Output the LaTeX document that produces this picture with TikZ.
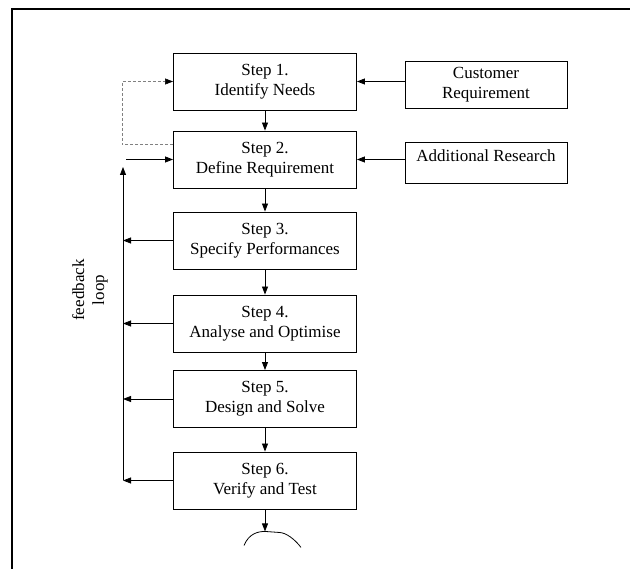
\documentclass[tikz,border=0pt]{standalone}
\usepackage{fontspec}
\setmainfont{Liberation Serif}
\usetikzlibrary{arrows.meta, positioning}

\begin{document}
\begin{tikzpicture}[x=1pt,y=-1pt,on grid,>={Triangle[length=8pt,width=6pt]},
        font=\fontsize{17}{20}\selectfont,
        stepbox/.style={draw, line width=0.9pt, minimum width=183pt, minimum height=57pt, align=center, inner sep=2pt},
        inbox/.style={draw, line width=0.9pt, minimum width=162pt, align=center, inner sep=2pt},
        flow/.style={->, line width=0.8pt}]
        % \draw[help lines] (0,0) grid[step=50] (630,569);
      \useasboundingbox (0,0) rectangle (630,569);
      \draw[line width=2pt] (12,569) -- (12,9) -- (630,9);

      \node[stepbox] (s1) at (265,81.5)   {Step 1.\\Identify Needs};
      \node[stepbox] (s2) [below=78pt of s1]   {Step 2.\\Define Requirement};
      \node[stepbox] (s3) [below=81pt of s2]   {Step 3.\\Specify Performances};
      \node[stepbox] (s4) [below=83pt of s3]   {Step 4.\\Analyse and Optimise};
      \node[stepbox] (s5) [below=75.5pt of s4] {Step 5.\\Design and Solve};
      \node[stepbox] (s6) [below=81.5pt of s5] {Step 6.\\Verify and Test};

      \node[inbox, minimum height=47pt] (cust) at (486,84.5) {Customer\\Requirement};
      \node[inbox, text height=14pt, text depth=15pt, inner ysep=6pt] (res) at (486,162.5) {Additional Research};

      \node[rotate=90, align=center] (fbl) at (90,290) {feedback\\loop};
      \coordinate (top) at (123,167);
      \coordinate (bump) at ([yshift=-22pt]s6.south);

      \path[flow] (s1) edge (s2)
                  (s2) edge (s3)
                  (s3) edge (s4)
                  (s4) edge (s5)
                  (s5) edge (s6)
                  (s6) edge (bump);

      \draw[flow] (cust.west |- s1.east) -- (s1.east);
      \draw[flow] (res.west |- s2.east) -- (s2.east);

      % feedback loop
      \draw[flow] (s3.west) -- (s3.west -| top);
      \draw[flow] (s4.west) -- (s4.west -| top);
      \draw[flow] (s5.west) -- (s5.west -| top);
      \draw[flow] (s6.west) -- (s6.west -| top);
      \draw[flow] (s6.west -| top) -- (top);
      \draw[flow] ([xshift=3pt]s2.west -| top) -- (s2.west);

      \draw[-{Triangle[length=8pt,width=6pt,black]}, densely dashed, gray, line width=0.5pt] ([yshift=15pt]s2.west) -| ([xshift=-1pt]top |- s1.west) -- (s1.west);

      \draw[line width=0.8pt] ([shift={(-21,14)}]bump) .. controls +(5,-12) and +(-7,0) .. (bump)
            -- ++(14,1) .. controls +(7,0) and +(-6,-8) .. ++(22,15);
    \end{tikzpicture}
\end{document}
